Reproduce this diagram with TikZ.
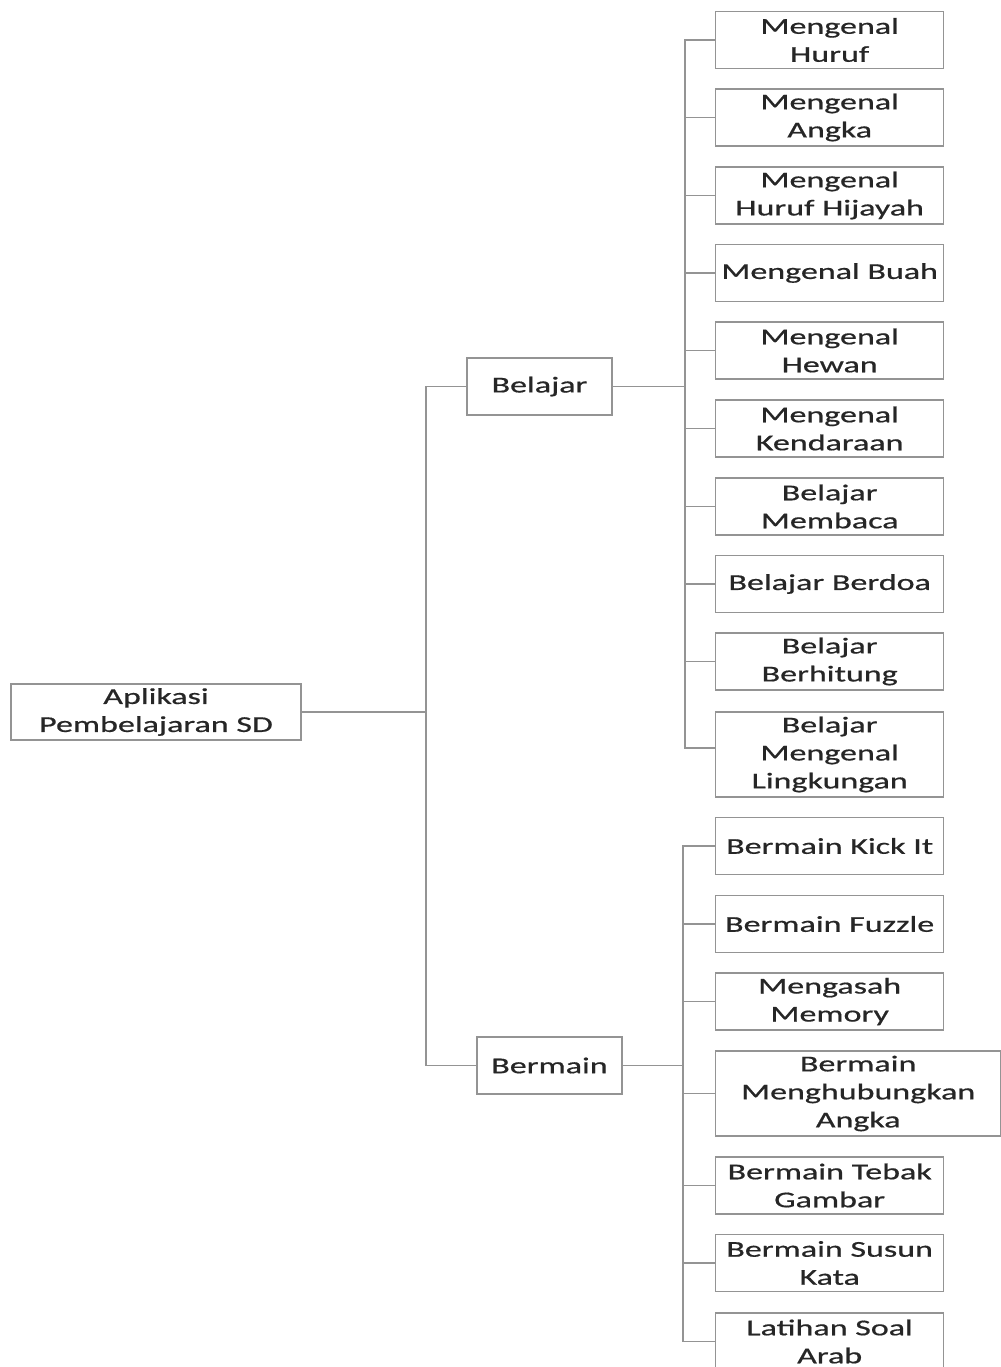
\documentclass[tikz,border=0pt]{standalone}
\usepackage{fontspec}
\setmainfont{Carlito}[FakeStretch=1.5,FakeBold=0.6]

\tikzset{every picture/.style={line width=0.75pt}}
\tikzset{
	kotak/.style={draw=black!42, line width=1pt, fill=white, text=black!85, align=center, inner sep=0.75pt, font=\fontsize{17}{21}\selectfont},
	anak/.style={kotak, anchor=west, minimum width=171pt, minimum height=42.75pt},
	garis/.style={draw=black!42, line width=1pt}
}

\begin{document}
\begin{tikzpicture}[x=0.75pt,y=0.75pt,yscale=-1,xscale=1]
	\useasboundingbox (0,0) rectangle (1000,1367);
	
	% Root Node
	\node [kotak, minimum width=217.5pt, minimum height=42pt] (root) at (156,712) {Aplikasi\\Pembelajaran SD};
	% Menu Nodes
	\node [kotak, minimum width=108.75pt, minimum height=42.75pt] (bel) at (539.5,386.5) {Belajar};
	\node [kotak, minimum width=108.75pt, minimum height=42.75pt] (bem) at (549.5,1065.5) {Bermain};
	
	% Belajar children
	\node [anak] (b1) at (715,40) {Mengenal\\Huruf};
	\node [anak] (b2) at (715,117.5) {Mengenal\\Angka};
	\node [anak] (b3) at (715,195.5) {Mengenal\\Huruf Hijayah};
	\node [anak] (b4) at (715,273) {Mengenal Buah};
	\node [anak] (b5) at (715,350.5) {Mengenal\\Hewan};
	\node [anak] (b6) at (715,428.5) {Mengenal\\Kendaraan};
	\node [anak] (b7) at (715,506.5) {Belajar\\Membaca};
	\node [anak] (b8) at (715,584) {Belajar Berdoa};
	\node [anak] (b9) at (715,661.5) {Belajar\\Berhitung};
	\node [anak, minimum height=63.75pt] (b10) at (715,754.5) {Belajar\\Mengenal\\Lingkungan};
	
	% Bermain children
	\node [anak] (m1) at (715,846) {Bermain Kick It};
	\node [anak] (m2) at (715,924) {Bermain Fuzzle};
	\node [anak] (m3) at (715,1001.5) {Mengasah\\Memory};
	\node [anak, minimum width=213.75pt, minimum height=63.75pt] (m4) at (715,1093.5) {Bermain\\Menghubungkan\\Angka};
	\node [anak] (m5) at (715,1185.5) {Bermain Tebak\\Gambar};
	\node [anak] (m6) at (715,1263) {Bermain Susun\\Kata};
	\node [anak] (m7) at (715,1341.5) {Latihan Soal\\Arab};
	
	% Connection
	\coordinate (t0) at (426,712);
	\coordinate (t1) at (685,386.5);
	\coordinate (t2) at (683,1065.5);
	\draw [garis] (root.east) -- (t0);
	\draw [garis] (bel.west) -| (t0) |- (bem.west);
	\draw [garis] (bel.east) -- (t1);
	\draw [garis] (bem.east) -- (t2);
	\foreach \n in {b1,b2,b3,b4,b5,b6,b7,b8,b9}
		\draw [garis] (t1) |- (\n.west);
	\draw [garis] (t1) |- ([yshift=-5pt]b10.west);
	\foreach \n in {m1,m2,m3,m4,m5,m6,m7}
		\draw [garis] (t2) |- (\n.west);
	
\end{tikzpicture}
\end{document}
